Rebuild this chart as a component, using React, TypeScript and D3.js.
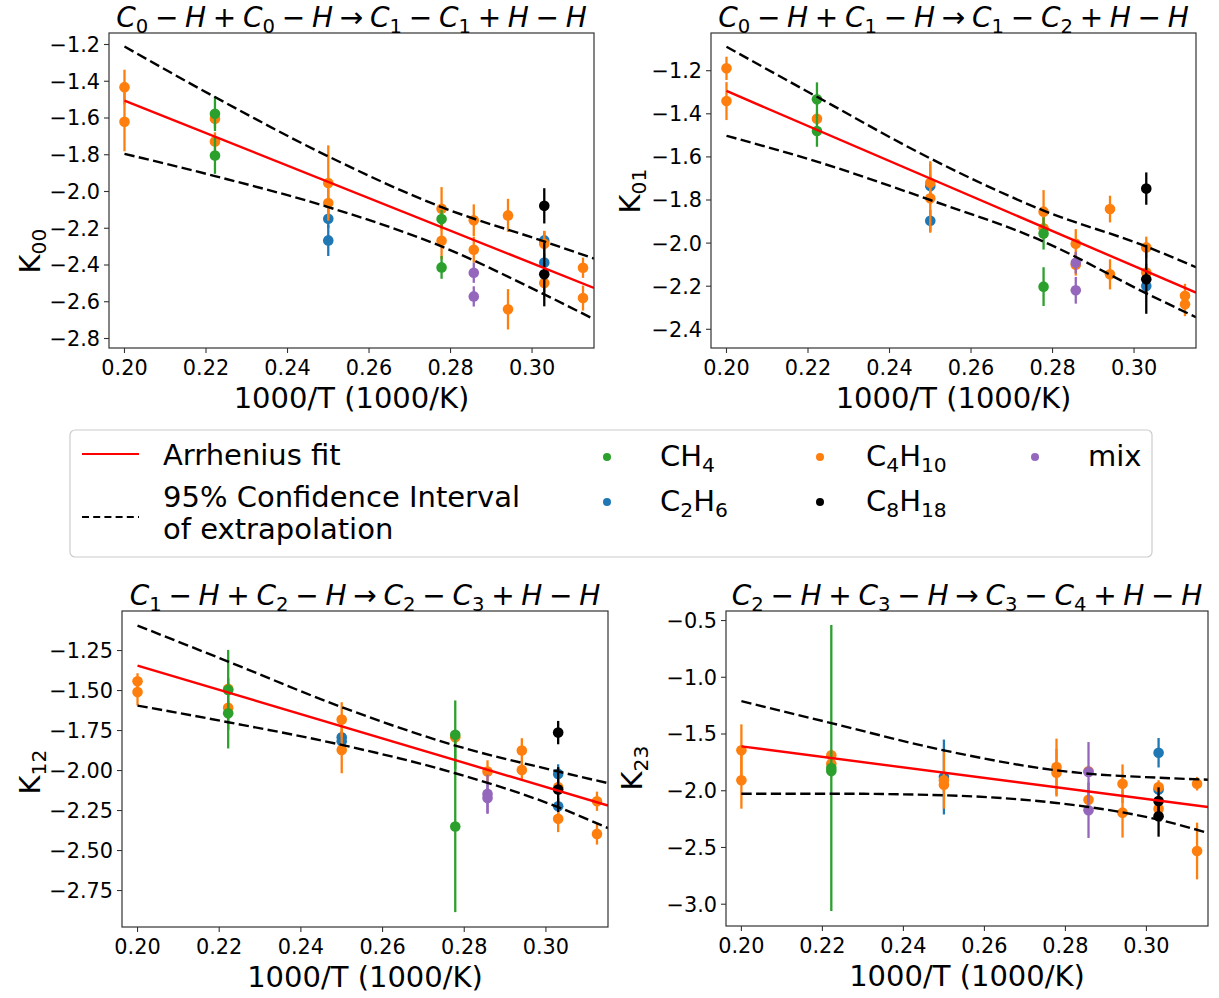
import React from "react";
import * as d3 from "d3";

type Pt = [number, number, number, string];
type XY = [number, number];

const X_DOMAIN: [number, number] = [0.1962, 0.3152];
const X_TICKS = [0.2, 0.22, 0.24, 0.26, 0.28, 0.3];

const COLORS: Record<string, string> = {
  CH4: "#2ca02c",
  C2H6: "#1f77b4",
  C4H10: "#ff7f0e",
  C8H18: "#000000",
  mix: "#9467bd",
};
const DRAW_ORDER = ["C2H6", "C4H10", "CH4", "C8H18", "mix"];

// [1000/T, K, error, species]
const k00Points: Pt[] = [
  [0.2, -1.432, 0.095, "C4H10"], [0.2, -1.621, 0.16, "C4H10"],
  [0.2222, -1.577, 0.094, "CH4"], [0.2222, -1.804, 0.1, "CH4"],
  [0.2222, -1.604, 0.05, "C4H10"], [0.2222, -1.728, 0.05, "C4H10"],
  [0.25, -1.954, 0.205, "C4H10"], [0.25, -2.063, 0.08, "C4H10"],
  [0.25, -2.148, 0.05, "C2H6"], [0.25, -2.266, 0.085, "C2H6"],
  [0.2778, -2.094, 0.118, "C4H10"], [0.2778, -2.268, 0.1, "C4H10"],
  [0.2778, -2.15, 0.05, "CH4"], [0.2778, -2.413, 0.062, "CH4"],
  [0.2857, -2.157, 0.087, "C4H10"], [0.2857, -2.317, 0.07, "C4H10"],
  [0.2857, -2.442, 0.055, "mix"], [0.2857, -2.571, 0.055, "mix"],
  [0.2941, -2.13, 0.09, "C4H10"], [0.2941, -2.641, 0.11, "C4H10"],
  [0.303, -2.078, 0.096, "C8H18"], [0.303, -2.451, 0.174, "C8H18"],
  [0.303, -2.266, 0.05, "C2H6"], [0.303, -2.386, 0.05, "C2H6"],
  [0.303, -2.284, 0.07, "C4H10"], [0.303, -2.498, 0.05, "C4H10"],
  [0.3125, -2.415, 0.055, "C4H10"], [0.3125, -2.58, 0.068, "C4H10"],
];
const k00Fit: XY[] = [[0.2, -1.505], [0.3152, -2.525]];
const k00Upper: XY[] = [[0.2, -1.211], [0.2222, -1.486], [0.25, -1.809], [0.2778, -2.085], [0.303, -2.272], [0.3152, -2.365]];
const k00Lower: XY[] = [[0.2, -1.795], [0.2222, -1.916], [0.25, -2.085], [0.2778, -2.299], [0.303, -2.56], [0.3152, -2.695]];

const k01Points: Pt[] = [
  [0.2, -1.189, 0.054, "C4H10"], [0.2, -1.341, 0.088, "C4H10"],
  [0.2222, -1.333, 0.079, "CH4"], [0.2222, -1.48, 0.073, "CH4"],
  [0.2222, -1.423, 0.03, "C4H10"],
  [0.25, -1.735, 0.05, "C2H6"], [0.25, -1.896, 0.05, "C2H6"],
  [0.25, -1.72, 0.1, "C4H10"], [0.25, -1.792, 0.16, "C4H10"],
  [0.2778, -1.854, 0.1, "C4H10"], [0.2778, -1.931, 0.05, "C4H10"],
  [0.2778, -1.955, 0.075, "CH4"], [0.2778, -2.202, 0.09, "CH4"],
  [0.2857, -2.003, 0.068, "C4H10"], [0.2857, -2.101, 0.05, "C4H10"],
  [0.2857, -2.091, 0.05, "mix"], [0.2857, -2.219, 0.062, "mix"],
  [0.2941, -1.842, 0.062, "C4H10"], [0.2941, -2.145, 0.07, "C4H10"],
  [0.303, -1.747, 0.075, "C8H18"], [0.303, -2.168, 0.16, "C8H18"],
  [0.303, -2.199, 0.04, "C2H6"],
  [0.303, -2.02, 0.05, "C4H10"], [0.303, -2.137, 0.04, "C4H10"],
  [0.3125, -2.244, 0.055, "C4H10"], [0.3125, -2.284, 0.055, "C4H10"],
];
const k01Fit: XY[] = [[0.2, -1.294], [0.3152, -2.23]];
const k01Upper: XY[] = [[0.2, -1.089], [0.2222, -1.321], [0.25, -1.607], [0.2778, -1.849], [0.303, -2.016], [0.3152, -2.112]];
const k01Lower: XY[] = [[0.2, -1.502], [0.2222, -1.622], [0.25, -1.8], [0.2778, -1.993], [0.303, -2.233], [0.3152, -2.344]];

const k12Points: Pt[] = [
  [0.2, -1.442, 0.05, "C4H10"], [0.2, -1.51, 0.083, "C4H10"],
  [0.2222, -1.49, 0.04, "C4H10"], [0.2222, -1.608, 0.04, "C4H10"],
  [0.2222, -1.496, 0.25, "CH4"], [0.2222, -1.642, 0.22, "CH4"],
  [0.25, -1.681, 0.108, "C4H10"], [0.25, -1.871, 0.146, "C4H10"],
  [0.25, -1.792, 0.04, "C2H6"], [0.25, -1.817, 0.04, "C2H6"],
  [0.2778, -1.792, 0.04, "C4H10"],
  [0.2778, -1.777, 0.215, "CH4"], [0.2778, -2.35, 0.535, "CH4"],
  [0.2857, -2.006, 0.07, "C4H10"],
  [0.2857, -2.146, 0.12, "mix"], [0.2857, -2.171, 0.1, "mix"],
  [0.2941, -1.875, 0.077, "C4H10"], [0.2941, -1.996, 0.06, "C4H10"],
  [0.303, -1.763, 0.073, "C8H18"], [0.303, -2.119, 0.14, "C8H18"],
  [0.303, -2.021, 0.06, "C2H6"], [0.303, -2.223, 0.05, "C2H6"],
  [0.303, -2.104, 0.05, "C4H10"], [0.303, -2.302, 0.083, "C4H10"],
  [0.3125, -2.192, 0.06, "C4H10"], [0.3125, -2.396, 0.067, "C4H10"],
];
const k12Fit: XY[] = [[0.2, -1.344], [0.3152, -2.219]];
const k12Upper: XY[] = [[0.2, -1.094], [0.2222, -1.319], [0.25, -1.604], [0.2778, -1.844], [0.303, -2.006], [0.3152, -2.079]];
const k12Lower: XY[] = [[0.2, -1.594], [0.2222, -1.698], [0.25, -1.84], [0.2778, -2.017], [0.303, -2.229], [0.3152, -2.36]];

const k23Points: Pt[] = [
  [0.2, -1.644, 0.229, "C4H10"], [0.2, -1.908, 0.25, "C4H10"],
  [0.2222, -1.688, 0.05, "C4H10"], [0.2222, -1.762, 0.05, "C4H10"],
  [0.2222, -1.8, 1.26, "CH4"], [0.2222, -1.826, 0.05, "CH4"],
  [0.25, -1.879, 0.33, "C2H6"],
  [0.25, -1.908, 0.25, "C4H10"], [0.25, -1.947, 0.06, "C4H10"],
  [0.2778, -1.791, 0.25, "C4H10"], [0.2778, -1.841, 0.21, "C4H10"],
  [0.2857, -1.829, 0.05, "C4H10"], [0.2857, -2.079, 0.05, "C4H10"],
  [0.2857, -1.835, 0.264, "mix"], [0.2857, -2.172, 0.244, "mix"],
  [0.2941, -1.938, 0.17, "C4H10"], [0.2941, -2.193, 0.22, "C4H10"],
  [0.303, -1.665, 0.13, "C2H6"], [0.303, -1.99, 0.05, "C2H6"],
  [0.303, -1.967, 0.06, "C4H10"], [0.303, -2.158, 0.05, "C4H10"],
  [0.303, -2.09, 0.12, "C8H18"], [0.303, -2.225, 0.18, "C8H18"],
  [0.3125, -1.938, 0.06, "C4H10"], [0.3125, -2.531, 0.25, "C4H10"],
];
const k23Fit: XY[] = [[0.2, -1.609], [0.3152, -2.143]];
const k23Upper: XY[] = [[0.2, -1.21], [0.2222, -1.404], [0.25, -1.644], [0.2778, -1.82], [0.2857, -1.85], [0.303, -1.885], [0.3152, -1.903]];
const k23Lower: XY[] = [[0.2, -2.026], [0.2222, -2.026], [0.25, -2.04], [0.2778, -2.108], [0.2857, -2.143], [0.303, -2.255], [0.3152, -2.372]];

const k00Ticks = [-2.8, -2.6, -2.4, -2.2, -2.0, -1.8, -1.6, -1.4, -1.2];
const k01Ticks = [-2.4, -2.2, -2.0, -1.8, -1.6, -1.4, -1.2];
const k12Ticks = [-2.75, -2.5, -2.25, -2.0, -1.75, -1.5, -1.25];
const k23Ticks = [-3.0, -2.5, -2.0, -1.5, -1.0, -0.5];

const TITLES = [
  "C_0 − H + C_0 − H → C_1 − C_1 + H − H",
  "C_0 − H + C_1 − H → C_1 − C_2 + H − H",
  "C_1 − H + C_2 − H → C_2 − C_3 + H − H",
  "C_2 − H + C_3 − H → C_3 − C_4 + H − H",
];
const YLABEL_SUBS = ["00", "01", "12", "23"];

const LEGEND_SPECIES = [
  { key: "CH4", base: "CH", sub: "4" },
  { key: "C2H6", base: "C", sub: "2", base2: "H", sub2: "6" },
  { key: "C4H10", base: "C", sub: "4", base2: "H", sub2: "10" },
  { key: "C8H18", base: "C", sub: "8", base2: "H", sub2: "18" },
  { key: "mix", base: "mix" },
];

const FONT = "DejaVu Sans";
const TICK_FS = 20.8;
const LABEL_FS = 29;
const TITLE_FS = 28;

const panels = [
  { id: "p0", left: 109, right: 594, top: 33, bottom: 348, yDomain: [-2.8517, -1.1374], ticks: k00Ticks, fmt: ".1f", pts: k00Points, fit: k00Fit, up: k00Upper, lo: k00Lower, ylabX: 30, ylabY: 251 },
  { id: "p1", left: 711, right: 1196, top: 33, bottom: 348, yDomain: [-2.4868, -1.025], ticks: k01Ticks, fmt: ".1f", pts: k01Points, fit: k01Fit, up: k01Upper, lo: k01Lower, ylabX: 630, ylabY: 191 },
  { id: "p2", left: 122, right: 608, top: 611, bottom: 927, yDomain: [-2.978, -1.003], ticks: k12Ticks, fmt: ".2f", pts: k12Points, fit: k12Fit, up: k12Upper, lo: k12Lower, ylabX: 30, ylabY: 772 },
  { id: "p3", left: 726, right: 1208, top: 611, bottom: 926, yDomain: [-3.192, -0.416], ticks: k23Ticks, fmt: ".1f", pts: k23Points, fit: k23Fit, up: k23Upper, lo: k23Lower, ylabX: 632, ylabY: 768 },
];

function MathTitle({ x, y, expr, fs }: { x: number; y: number; expr: string; fs: number }) {
  const gap = fs * 0.24;
  const subFs = fs * 0.7;
  const subShift = fs * 0.2;
  const spans: React.ReactNode[] = [];
  let shifted = false;
  let prevOp = false;
  expr.split(" ").forEach((tok, i) => {
    const isOp = tok === "−" || tok === "+" || tok === "→";
    if (isOp) {
      spans.push(
        <tspan key={i} dx={gap} dy={shifted ? -subShift : 0} fontStyle="normal">{tok}</tspan>
      );
      shifted = false;
      prevOp = true;
    } else {
      const [base, sub] = tok.split("_");
      spans.push(
        <tspan key={i + "b"} dx={prevOp ? gap : 0} dy={shifted ? -subShift : 0} fontStyle="italic">{base}</tspan>
      );
      shifted = false;
      if (sub) {
        spans.push(
          <tspan key={i + "s"} dy={subShift} fontSize={subFs} fontStyle="normal">{sub}</tspan>
        );
        shifted = true;
      }
      prevOp = false;
    }
  });
  return (
    <text x={x} y={y} textAnchor="middle" fontSize={fs} fontFamily={FONT} fill="#000">
      {spans}
    </text>
  );
}

function Panel({ p, idx }: { p: any; idx: number }) {
  const x = d3.scaleLinear().domain(X_DOMAIN).range([p.left, p.right]);
  const y = d3.scaleLinear().domain(p.yDomain).range([p.bottom, p.top]);
  const line = d3.line<XY>().x((d) => x(d[0])).y((d) => y(d[1])).curve(d3.curveMonotoneX);
  const yfmt = d3.format(p.fmt);
  const xfmt = d3.format(".2f");
  const cx = (p.left + p.right) / 2;
  const sorted = DRAW_ORDER.flatMap((s) => p.pts.filter((d: Pt) => d[3] === s));
  const subShift = LABEL_FS * 0.2;
  return (
    <g>
      <defs>
        <clipPath id={"clip-" + p.id}>
          <rect x={p.left} y={p.top} width={p.right - p.left} height={p.bottom - p.top} />
        </clipPath>
      </defs>
      <g clipPath={`url(#clip-${p.id})`}>
        {sorted.map((d: Pt, i: number) => (
          <g key={i}>
            <line x1={x(d[0])} x2={x(d[0])} y1={y(d[1] - d[2])} y2={y(d[1] + d[2])} stroke={COLORS[d[3]]} strokeWidth={2.3} />
            <circle cx={x(d[0])} cy={y(d[1])} r={5.3} fill={COLORS[d[3]]} />
          </g>
        ))}
        <path d={line(p.fit) || ""} fill="none" stroke="#ff0000" strokeWidth={2.4} />
        <path d={line(p.up) || ""} fill="none" stroke="#000" strokeWidth={2.4} strokeDasharray="10.3,4.4" />
        <path d={line(p.lo) || ""} fill="none" stroke="#000" strokeWidth={2.4} strokeDasharray="10.3,4.4" />
      </g>
      <rect x={p.left} y={p.top} width={p.right - p.left} height={p.bottom - p.top} fill="none" stroke="#333" strokeWidth={1.2} />
      {X_TICKS.map((t) => (
        <g key={"x" + t}>
          <line x1={x(t)} x2={x(t)} y1={p.bottom} y2={p.bottom + 5} stroke="#333" strokeWidth={1.1} />
          <text x={x(t)} y={p.bottom + 27} textAnchor="middle" fontSize={TICK_FS} fontFamily={FONT}>{xfmt(t)}</text>
        </g>
      ))}
      {p.ticks.map((t: number) => (
        <g key={"y" + t}>
          <line x1={p.left - 5} x2={p.left} y1={y(t)} y2={y(t)} stroke="#333" strokeWidth={1.1} />
          <text x={p.left - 9} y={y(t)} dy="0.36em" textAnchor="end" fontSize={TICK_FS} fontFamily={FONT}>{yfmt(t)}</text>
        </g>
      ))}
      <text x={cx} y={p.bottom + 60} textAnchor="middle" fontSize={LABEL_FS} fontFamily={FONT}>1000/T (1000/K)</text>
      <text transform={`translate(${p.ylabX},${p.ylabY}) rotate(-90)`} textAnchor="middle" dy="0.36em" fontSize={LABEL_FS} fontFamily={FONT}>
        <tspan>K</tspan>
        <tspan fontSize={LABEL_FS * 0.7} dy={subShift}>{YLABEL_SUBS[idx]}</tspan>
      </text>
      <MathTitle x={cx} y={p.top - 6} expr={TITLES[idx]} fs={TITLE_FS} />
    </g>
  );
}

function SubText({ x, y, item }: { x: number; y: number; item: any }) {
  const sfs = LABEL_FS * 0.7;
  const sh = LABEL_FS * 0.2;
  return (
    <text x={x} y={y} fontSize={LABEL_FS} fontFamily={FONT}>
      <tspan>{item.base}</tspan>
      {item.sub && <tspan fontSize={sfs} dy={sh}>{item.sub}</tspan>}
      {item.base2 && <tspan dy={-sh}>{item.base2}</tspan>}
      {item.sub2 && <tspan fontSize={sfs} dy={sh}>{item.sub2}</tspan>}
    </text>
  );
}

function Legend() {
  const pos: Record<string, [number, number]> = {
    CH4: [607, 457],
    C2H6: [607, 502],
    C4H10: [820, 457],
    C8H18: [820, 502],
    mix: [1035, 457],
  };
  const textX: Record<string, number> = { CH4: 660, C2H6: 660, C4H10: 866, C8H18: 866, mix: 1088 };
  return (
    <g>
      <rect x={70} y={430} width={1082} height={127} rx={5} fill="#fff" stroke="#cccccc" strokeWidth={1.2} />
      <line x1={82} x2={139} y1={454} y2={454} stroke="#ff0000" strokeWidth={2.2} />
      <text x={163} y={465} fontSize={LABEL_FS} fontFamily={FONT}>Arrhenius fit</text>
      <line x1={82} x2={139} y1={517} y2={517} stroke="#000" strokeWidth={2} strokeDasharray="7,4.2" />
      <text x={163} y={507} fontSize={LABEL_FS} fontFamily={FONT}>95% Confidence Interval</text>
      <text x={163} y={539} fontSize={LABEL_FS} fontFamily={FONT}>of extrapolation</text>
      {LEGEND_SPECIES.map((s) => (
        <g key={s.key}>
          <circle cx={pos[s.key][0]} cy={pos[s.key][1]} r={4} fill={COLORS[s.key]} />
          <SubText x={textX[s.key]} y={pos[s.key][1] + 9} item={s} />
        </g>
      ))}
    </g>
  );
}

export default function App() {
  return (
    <svg width={1219} height={998} style={{ position: "absolute", left: 0, top: 0, background: "#fff" }}>
      <rect x={0} y={0} width={1219} height={998} fill="#fff" />
      {panels.map((p, i) => (
        <Panel key={p.id} p={p} idx={i} />
      ))}
      <Legend />
    </svg>
  );
}
